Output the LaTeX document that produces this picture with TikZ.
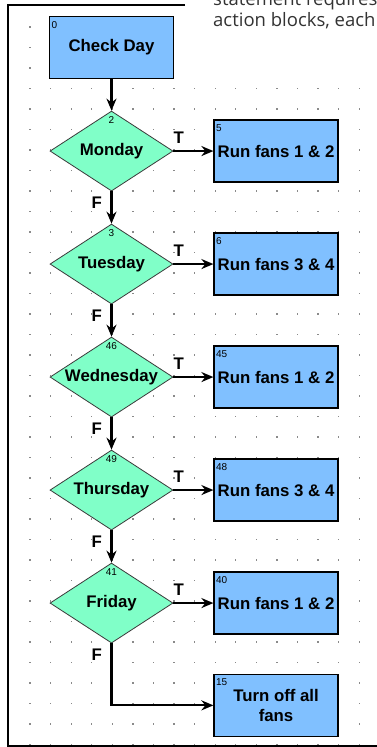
\documentclass[tikz,border=0pt]{standalone}
\usepackage{fontspec}
\usepackage{tikz}
\usepackage{xcolor}
\usetikzlibrary{arrows.meta,positioning,shapes.geometric}
\newfontfamily\chartfont{Liberation Sans}
\newfontfamily\pagefont{Open Sans}
\definecolor{cBlock}{HTML}{80C0FF}
\definecolor{cTest}{HTML}{80FFC8}
\definecolor{cInk}{HTML}{000000}
\definecolor{cEdge}{HTML}{3A3A3A}
\definecolor{cDot}{HTML}{8A8A8A}
\definecolor{cPage}{HTML}{333333}
\tikzset{
  >={Stealth[length=12pt,width=10pt]},
  block/.style ={draw=cInk,line width=1.3pt,fill=cBlock,
                 minimum width=124pt,minimum height=62pt,inner sep=0pt,
                 align=center,font=\chartfont\bfseries\fontsize{16.8}{20}\selectfont},
  test/.style  ={diamond,aspect=1.54,draw=cEdge,line width=0.8pt,fill=cTest,
                 minimum width=123pt,minimum height=80pt,inner sep=0pt,
                 font=\chartfont\bfseries\fontsize{16.8}{20}\selectfont},
  num/.style   ={inner sep=0pt,font=\chartfont\fontsize{10}{10}\selectfont},
  tf/.style    ={inner sep=0pt,font=\chartfont\bfseries\fontsize{16.8}{20}\selectfont},
  ar/.style    ={->,line width=2.2pt,cInk},
  rim/.style   ={line width=2pt,cInk},
  page/.style  ={anchor=base west,inner sep=0pt,text=cPage,
                 font=\pagefont\fontsize{18.5}{20}\selectfont},
}

\begin{document}
\begin{tikzpicture}[x=1pt,y=1pt]
\useasboundingbox (0,0) rectangle (377,-747);
\clip (0,0) rectangle (377,-747);
\fill[white] (0,0) rectangle (377,-747);

% grid dots
\foreach \j in {3,...,35}
  \foreach \k in {0,...,16}
    \fill[cDot] (29.4+20.57*\k,-27.6-20.5*\j) rectangle ++(1.3,1.3);
\foreach \j in {0,1,2}
  \fill[cDot] (29.4,-27.6-20.5*\j) rectangle ++(1.3,1.3);

% figure frame and page text
\draw[rim] (185,-4.5) -- (7.7,-4.5) -- (7.7,-746) -- (377,-746);
\node[page] (txt1) at (213,-5.5) {statement requires};
\node[page] (txt2) at (213,-26) {action blocks, each};

% day tests
\node[block] (check) at (111.5,-47.5) {Check Day};
\node[test,below=31.5pt of check] (mon) {Monday};
\node[test,below=32.2pt of mon] (tue) {Tuesday};
\node[test,below=32.2pt of tue] (wed) {Wednesday};
\node[test,below=32.2pt of wed] (thu) {Thursday};
\node[test,below=32.2pt of thu] (fri) {Friday};

% actions
\node[block,right=40pt of mon] (act1) {Run fans 1 \& 2};
\node[block,right=40pt of tue] (act2) {Run fans 3 \& 4};
\node[block,right=40pt of wed] (act3) {Run fans 1 \& 2};
\node[block,right=40pt of thu] (act4) {Run fans 3 \& 4};
\node[block,right=40pt of fri] (act5) {Run fans 1 \& 2};
\node[block,below=39pt of act5] (off) {Turn off all\\fans};

% block numbers
\node[num,below right=5pt and 2.5pt of check.north west] (n0) {0};
\node[num,below=5.5pt of mon.north] (n2) {2};
\node[num,below=5.5pt of tue.north] (n3) {3};
\node[num,below=5.5pt of wed.north] (n46) {46};
\node[num,below=5.5pt of thu.north] (n49) {49};
\node[num,below=5.5pt of fri.north] (n41) {41};
\node[num,below right=5pt and 2.5pt of act1.north west] (n5) {5};
\node[num,below right=5pt and 2.5pt of act2.north west] (n6) {6};
\node[num,below right=5pt and 2.5pt of act3.north west] (n45) {45};
\node[num,below right=5pt and 2.5pt of act4.north west] (n48) {48};
\node[num,below right=5pt and 2.5pt of act5.north west] (n40) {40};
\node[num,below right=5pt and 2.5pt of off.north west] (n15) {15};

% connectors
\draw[ar] (check) -- (mon);
\foreach \d/\e/\a in {mon/tue/act1,tue/wed/act2,wed/thu/act3,thu/fri/act4}{
  \draw[ar] (\d.south) -- (\e.north);
  \draw[ar] (\d.east) -- (\a.west);
  \node[tf,above right=7pt and 0pt of \d.east] (t\d) {T};
  \node[tf,below left=5pt and 9.5pt of \d.south] (f\d) {F};
}
\draw[ar] (fri.east) -- (act5.west);
\node[tf,above right=7pt and 0pt of fri.east] (tfri) {T};
\draw[ar] (fri.south) |- (off.west);
\node[tf,below left=5pt and 9.5pt of fri.south] (ffri) {F};
\end{tikzpicture}
\end{document}
